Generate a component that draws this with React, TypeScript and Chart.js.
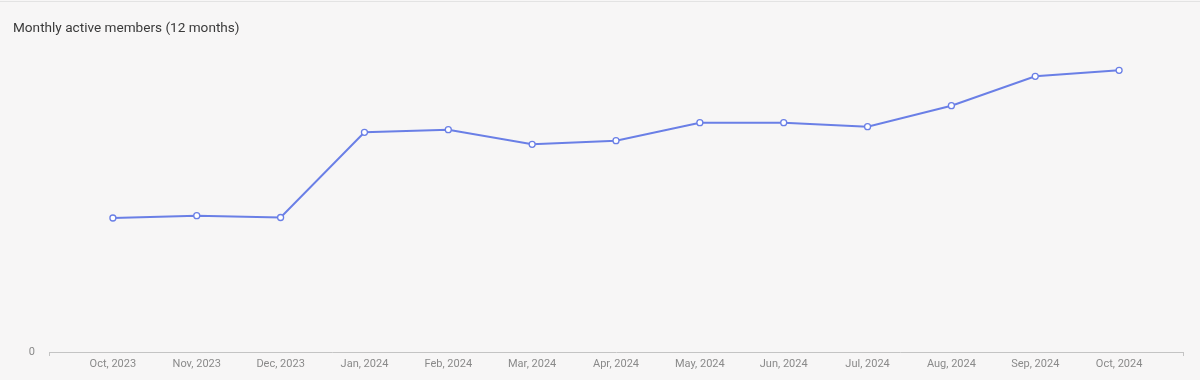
import React, { useEffect, useRef } from "react";
import { Chart, registerables } from "chart.js";

Chart.register(...registerables);

const title = "Monthly active members (12 months)";
const months = [
  "Oct, 2023", "Nov, 2023", "Dec, 2023", "Jan, 2024", "Feb, 2024", "Mar, 2024",
  "Apr, 2024", "May, 2024", "Jun, 2024", "Jul, 2024", "Aug, 2024", "Sep, 2024", "Oct, 2024",
];
const activeMembers = [1340, 1363, 1345, 2197, 2223, 2077, 2113, 2293, 2293, 2253, 2463, 2757, 2817];
const yTickValues = [0];
const yMax = 3000;

export default function App() {
  const ref = useRef<HTMLCanvasElement | null>(null);

  useEffect(() => {
    document.body.style.margin = "0";
    const canvas = ref.current;
    if (!canvas) return;
    const pad = 0.762;
    const chart = new Chart(canvas, {
      type: "line",
      data: {
        datasets: [
          {
            label: "Active members",
            data: activeMembers.map((v, i) => ({ x: i, y: v })),
            borderColor: "#6a7fe6",
            borderWidth: 2,
            pointRadius: 3,
            pointBackgroundColor: "#ffffff",
            pointBorderColor: "#6a7fe6",
            pointBorderWidth: 1.3,
            tension: 0,
          },
        ],
      },
      options: {
        responsive: false,
        animation: false,
        layout: { padding: { top: 52, right: 17, left: 0, bottom: 0 } },
        plugins: { legend: { display: false }, tooltip: { enabled: false }, title: { display: false } },
        scales: {
          x: {
            type: "linear",
            min: -pad,
            max: months.length - 1 + pad,
            afterBuildTicks: (scale: any) => {
              const t: any[] = [{ value: -pad }];
              months.forEach((_, i) => t.push({ value: i }));
              t.push({ value: months.length - 1 + pad });
              scale.ticks = t;
            },
            afterFit: (scale: any) => {
              scale.height = 28;
            },
            ticks: {
              autoSkip: false,
              maxRotation: 0,
              minRotation: 0,
              padding: 2,
              color: "#8a8a8a",
              font: { family: "Roboto", size: 11 },
              callback: (v: any) => (Number.isInteger(v) ? months[v] : ""),
            },
            grid: {
              drawOnChartArea: false,
              drawTicks: true,
              tickLength: 4,
              color: (ctx: any) =>
                ctx.index === 0 || ctx.index === months.length + 1 ? "#c4c4c4" : "rgba(0,0,0,0)",
            },
            border: { display: true, color: "#c4c4c4", width: 1 },
          },
          y: {
            min: 0,
            max: yMax,
            afterBuildTicks: (scale: any) => {
              scale.ticks = yTickValues.map((v) => ({ value: v }));
            },
            afterFit: (scale: any) => {
              scale.width = 49;
            },
            ticks: {
              padding: 6,
              color: "#8a8a8a",
              font: { family: "Roboto", size: 11 },
              callback: (v: any) => String(v),
            },
            grid: { display: false },
            border: { display: false },
          },
        },
      },
    });
    return () => chart.destroy();
  }, []);

  return (
    <div
      style={{
        position: "fixed",
        left: 0,
        top: 0,
        width: 1200,
        height: 380,
        background: "#f7f6f6",
        overflow: "hidden",
      }}
    >
      <div style={{ position: "absolute", left: 0, top: 1, width: 1200, height: 1, background: "#e3e3e3" }} />
      <canvas ref={ref} width={1200} height={380} style={{ position: "absolute", left: 0, top: 0 }} />
      <div
        style={{
          position: "absolute",
          left: 13,
          top: 18,
          fontFamily: "Roboto, 'Noto Sans', sans-serif",
          fontSize: 13.6,
          color: "#3a3a3a",
          lineHeight: "18px",
          whiteSpace: "nowrap",
        }}
      >
        {title}
      </div>
    </div>
  );
}
